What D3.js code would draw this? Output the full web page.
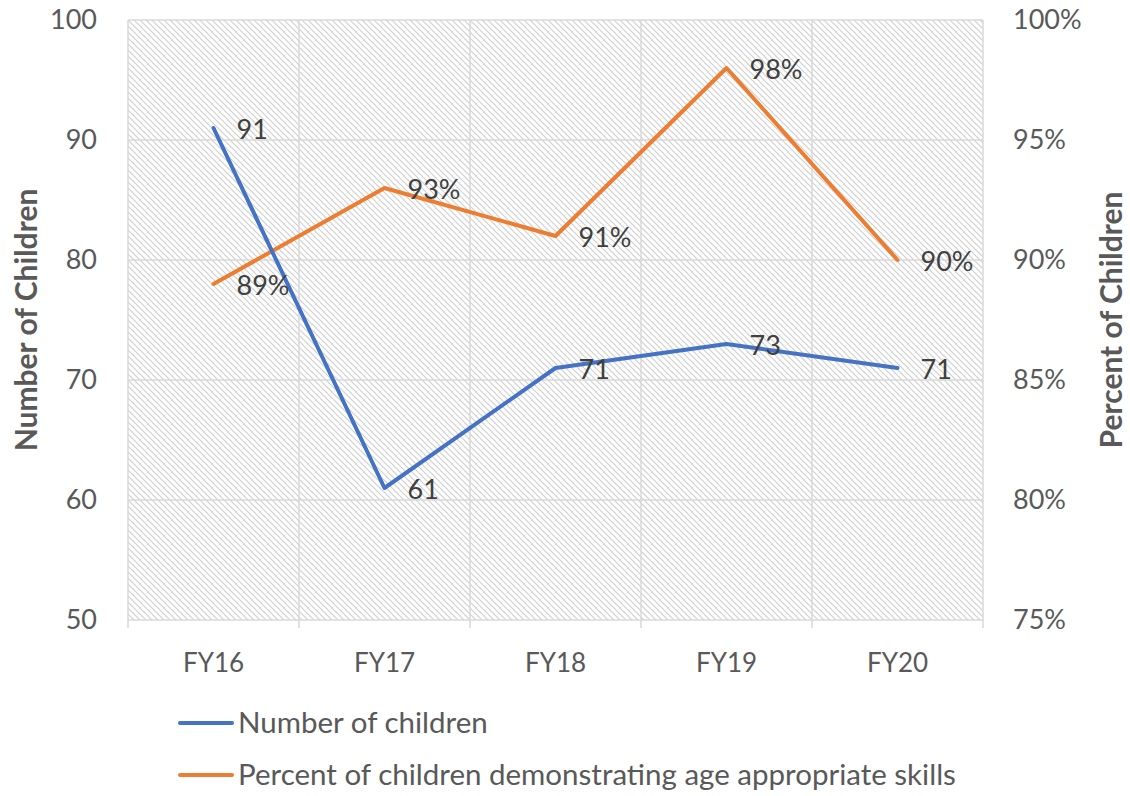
<!DOCTYPE html>
<html>
<head>
<meta charset="utf-8">
<script src="https://cdn.jsdelivr.net/npm/d3@7"></script>
<style>
  body { margin: 0; background: #fff; }
  text { font-family: Lato, "Open Sans", sans-serif; fill: #595959; }
</style>
</head>
<body>
<div id="chart"></div>
<script>
'use strict';

// chart data
var years = ["FY16", "FY17", "FY18", "FY19", "FY20"];
var childCounts = [91, 61, 71, 73, 71];
var skillPercents = [0.89, 0.93, 0.91, 0.98, 0.90];
var leftTicks = [50, 60, 70, 80, 90, 100];
var rightTicks = [0.75, 0.80, 0.85, 0.90, 0.95, 1.00];
var seriesNames = ["Number of children", "Percent of children demonstrating age appropriate skills"];

var width = 1130, height = 796;
var margin = {top: 20, right: 147, bottom: 176, left: 128};
var blue = "#4472C4", orange = "#ED7D31", grid = "#d9d9d9";
var fontSize = '27px';

var svg = d3.select('#chart')
    .append('svg')
    .attr('width', width)
    .attr('height', height);

// hatch pattern for the plot background
var defs = svg.append('defs');
var pat = defs.append('pattern')
    .attr('id', 'hatch')
    .attr('patternUnits', 'userSpaceOnUse')
    .attr('width', 6).attr('height', 6);
pat.append('path')
    .attr('d', 'M-1,-1 L7,7 M-4,2 L4,10 M2,-4 L10,4')
    .attr('stroke', '#d0d0d0')
    .attr('stroke-width', 1.2);

var x = d3.scaleBand()
    .domain(years)
    .range([margin.left, width - margin.right]);

var yLeft = d3.scaleLinear()
    .domain([50, 100])
    .range([height - margin.bottom, margin.top]);

var yRight = d3.scaleLinear()
    .domain([0.75, 1.0])
    .range([height - margin.bottom, margin.top]);

var plotW = width - margin.left - margin.right;
var plotH = height - margin.top - margin.bottom;

svg.append('rect')
    .attr('x', margin.left).attr('y', margin.top)
    .attr('width', plotW).attr('height', plotH)
    .attr('fill', 'url(#hatch)');

// horizontal gridlines
svg.append('g')
    .selectAll('line')
    .data(leftTicks)
    .enter()
    .append('line')
    .attr('x1', margin.left).attr('x2', width - margin.right)
    .attr('y1', function(d) { return yLeft(d); })
    .attr('y2', function(d) { return yLeft(d); })
    .attr('stroke', grid).attr('stroke-width', 1.5);

// vertical gridlines at category borders, with ticks below
var borders = years.map(function(d) { return x(d); }).concat([x.range()[1]]);
svg.append('g')
    .selectAll('line')
    .data(borders)
    .enter()
    .append('line')
    .attr('x1', function(d) { return d; })
    .attr('x2', function(d) { return d; })
    .attr('y1', margin.top)
    .attr('y2', height - margin.bottom + 8)
    .attr('stroke', grid).attr('stroke-width', 1.5);

// left axis labels
svg.append('g')
    .selectAll('text')
    .data(leftTicks)
    .enter()
    .append('text')
    .attr('x', 97)
    .attr('y', function(d) { return yLeft(d); })
    .attr('dy', '0.35em')
    .attr('text-anchor', 'end')
    .style('font-size', fontSize)
    .text(function(d) { return d; });

// right axis labels
svg.append('g')
    .selectAll('text')
    .data(rightTicks)
    .enter()
    .append('text')
    .attr('x', 1013)
    .attr('y', function(d) { return yRight(d); })
    .attr('dy', '0.35em')
    .attr('text-anchor', 'start')
    .style('font-size', fontSize)
    .text(function(d) { return d3.format('.0%')(d); });

// category labels
svg.append('g')
    .selectAll('text')
    .data(years)
    .enter()
    .append('text')
    .attr('x', function(d) { return x(d) + x.bandwidth() / 2; })
    .attr('y', 663)
    .attr('dy', '0.35em')
    .attr('text-anchor', 'middle')
    .style('font-size', '26px')
    .text(function(d) { return d; });

// axis titles
svg.append('text')
    .attr('transform', 'translate(26,' + (margin.top + plotH / 2) + ') rotate(-90)')
    .attr('dy', '0.35em')
    .attr('text-anchor', 'middle')
    .style('font-size', '30px')
    .style('font-weight', 'bold')
    .text('Number of Children');

svg.append('text')
    .attr('transform', 'translate(1111,' + (margin.top + plotH / 2) + ') rotate(-90)')
    .attr('dy', '0.35em')
    .attr('text-anchor', 'middle')
    .style('font-size', '30px')
    .style('font-weight', 'bold')
    .text('Percent of Children');

var cx = function(i) { return x(years[i]) + x.bandwidth() / 2; };

var lineLeft = d3.line()
    .x(function(d, i) { return cx(i); })
    .y(function(d) { return yLeft(d); });

var lineRight = d3.line()
    .x(function(d, i) { return cx(i); })
    .y(function(d) { return yRight(d); });

svg.append('path')
    .datum(skillPercents)
    .attr('d', lineRight)
    .attr('fill', 'none')
    .attr('stroke', orange)
    .attr('stroke-width', 4)
    .attr('stroke-linejoin', 'round')
    .attr('stroke-linecap', 'round');

svg.append('path')
    .datum(childCounts)
    .attr('d', lineLeft)
    .attr('fill', 'none')
    .attr('stroke', blue)
    .attr('stroke-width', 4)
    .attr('stroke-linejoin', 'round')
    .attr('stroke-linecap', 'round');

// data labels
svg.append('g')
    .selectAll('text')
    .data(childCounts)
    .enter()
    .append('text')
    .attr('x', function(d, i) { return cx(i) + 23; })
    .attr('y', function(d) { return yLeft(d) + 2; })
    .attr('dy', '0.35em')
    .style('font-size', fontSize)
    .style('fill', '#404040')
    .text(function(d) { return d; });

svg.append('g')
    .selectAll('text')
    .data(skillPercents)
    .enter()
    .append('text')
    .attr('x', function(d, i) { return cx(i) + 23; })
    .attr('y', function(d) { return yRight(d) + 2; })
    .attr('dy', '0.35em')
    .style('font-size', fontSize)
    .style('fill', '#404040')
    .text(function(d) { return d3.format('.0%')(d); });

// legend
var legend = svg.append('g')
    .selectAll('g')
    .data(seriesNames)
    .enter()
    .append('g')
    .attr('transform', function(d, i) { return 'translate(180,' + (723 + i * 52) + ')'; });

legend.append('line')
    .attr('x1', 0).attr('x2', 52)
    .attr('stroke', function(d, i) { return i === 0 ? blue : orange; })
    .attr('stroke-width', 4)
    .attr('stroke-linecap', 'round');

legend.append('text')
    .attr('x', 58)
    .attr('dy', '0.35em')
    .style('font-size', '29.5px')
    .text(function(d) { return d; });
</script>
</body>
</html>
